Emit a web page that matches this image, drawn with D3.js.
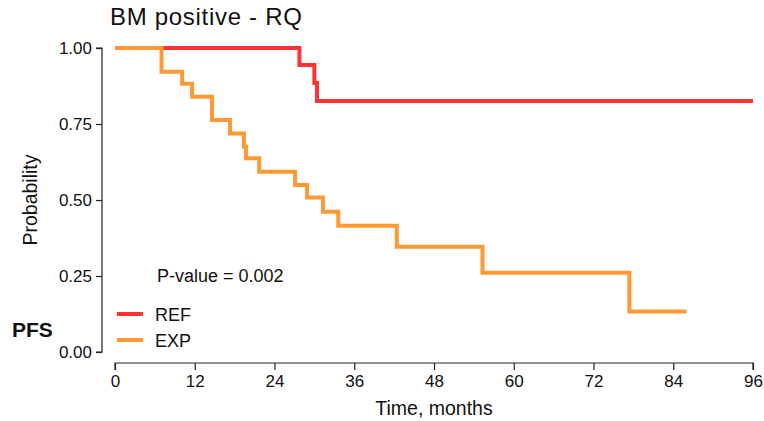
<!DOCTYPE html>
<html>
  <head>
    <meta charset="UTF-8">
    <style>
      html, body { margin: 0; padding: 0; background: #fff; }
      svg text { font-family: "Liberation Sans", Arial, sans-serif; }
    </style>
    <script src="https://d3js.org/d3.v7.min.js"></script>
  </head>
  <body>
    <div id="viz"></div>
    <script>
      // Kaplan-Meier step points
      const refTime = [0, 27.75, 30.0, 30.4, 96];
      const refSurv = [1.0, 0.944, 0.885, 0.826, 0.826];
      const expTime = [0, 7.0, 10.1, 11.6, 14.6, 17.3, 19.4, 19.7, 21.7, 27.1, 28.9, 31.3, 33.6, 42.4, 55.3, 77.4, 86.0];
      const expSurv = [1.0, 0.922, 0.882, 0.840, 0.763, 0.719, 0.675, 0.637, 0.593, 0.549, 0.508, 0.461, 0.415, 0.346, 0.261, 0.133, 0.133];
      const xTicks = [0, 12, 24, 36, 48, 60, 72, 84, 96];
      const yTicks = [0, 0.25, 0.5, 0.75, 1];
      const groups = ["REF", "EXP"];
      const colors = ["#ff3333", "#ff9933"];

      const width = 764, height = 421;
      const x = d3.scaleLinear().domain([0, 96]).range([115, 753]);
      const y = d3.scaleLinear().domain([0, 1]).range([352, 48]);

      const svg = d3.select("#viz").append("svg")
          .attr("width", width)
          .attr("height", height);

      // title
      svg.append("text")
          .attr("x", 110).attr("y", 25)
          .attr("font-size", 24)
          .attr("letter-spacing", 0.7)
          .attr("fill", "#111")
          .text("BM positive - RQ");

      // axes
      const yAxis = svg.append("g")
          .attr("transform", "translate(102,0)")
          .call(d3.axisLeft(y).tickValues(yTicks).tickFormat(d3.format(".2f")).tickSize(6).tickPadding(4));
      const xAxis = svg.append("g")
          .attr("transform", "translate(0,363)")
          .call(d3.axisBottom(x).tickValues(xTicks).tickSize(7).tickPadding(5));
      [xAxis, yAxis].forEach(g => {
        g.selectAll("path").attr("stroke", "#222").attr("stroke-width", 1.2);
        g.selectAll("line").attr("stroke", "#222").attr("stroke-width", 1.2);
        g.selectAll("text").attr("font-size", 17).attr("fill", "#111")
            .attr("font-family", "Liberation Sans, Arial, sans-serif");
      });
      // plain end-to-end lines like base R axes
      yAxis.select("path").attr("d", `M-6,${y(1)}H0V${y(0)}H-6`);
      xAxis.select("path").attr("d", `M${x(0)},7V0H${x(96)}V7`);

      // axis titles
      svg.append("text")
          .attr("transform", `translate(37,${(y(0) + y(1)) / 2}) rotate(-90)`)
          .attr("text-anchor", "middle")
          .attr("font-size", 19.5)
          .attr("fill", "#111")
          .text("Probability");
      svg.append("text")
          .attr("x", (x(0) + x(96)) / 2).attr("y", 415)
          .attr("text-anchor", "middle")
          .attr("font-size", 19.5)
          .attr("fill", "#111")
          .text("Time, months");

      // curves
      const line = d3.line()
          .x(d => x(d[0]))
          .y(d => y(d[1]))
          .curve(d3.curveStepAfter);
      const series = [
        d3.zip(refTime, refSurv),
        d3.zip(expTime, expSurv)
      ];
      // REF first, EXP drawn on top
      series.forEach((s, i) => {
        svg.append("path")
            .datum(s)
            .attr("fill", "none")
            .attr("stroke", colors[i])
            .attr("stroke-width", 4)
            .attr("d", line);
      });

      // p-value
      svg.append("text")
          .attr("x", 157).attr("y", 282)
          .attr("font-size", 18)
          .attr("fill", "#111")
          .text("P-value = 0.002");

      // legend
      const legend = svg.append("g");
      groups.forEach((g, i) => {
        const ly = 314 + i * 26;
        legend.append("line")
            .attr("x1", 117).attr("x2", 143)
            .attr("y1", ly).attr("y2", ly)
            .attr("stroke", colors[i])
            .attr("stroke-width", 4);
        legend.append("text")
            .attr("x", 155).attr("y", ly + 6.5)
            .attr("font-size", 18)
            .attr("fill", "#111")
            .text(g);
      });

      // side label
      svg.append("text")
          .attr("x", 12).attr("y", 337)
          .attr("font-family", "Open Sans, sans-serif")
          .attr("font-weight", "bold")
          .attr("font-size", 21)
          .attr("fill", "#111")
          .text("PFS");
    </script>
  </body>
</html>
